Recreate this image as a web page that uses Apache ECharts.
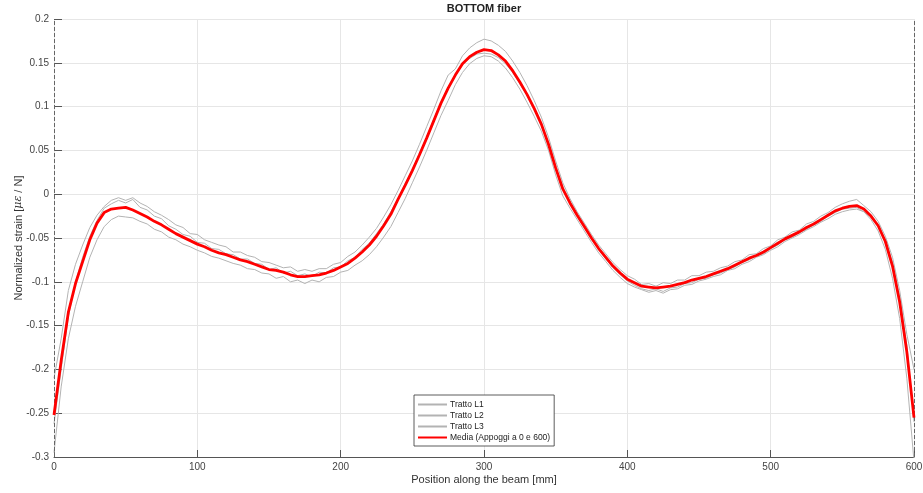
<!DOCTYPE html>
<html><head><meta charset="utf-8">
<script src="https://cdn.jsdelivr.net/npm/echarts@6/dist/echarts.min.js"></script>
<style>html,body{margin:0;padding:0;background:#fff}#c{width:923px;height:493px}</style>
</head><body><div id="c"></div>
<script>
// positions along the beam [mm], sampled every 5 mm from 0 to 600
const positions = Array.from({length: 121}, (_, i) => i * 5);

const trattoL1 = [
-0.210,-0.165,-0.110,-0.080,-0.058,-0.038,-0.024,-0.014,-0.007,-0.004,
-0.007,-0.004,-0.010,-0.014,-0.020,-0.024,-0.029,-0.035,-0.038,-0.045,
-0.046,-0.052,-0.055,-0.058,-0.060,-0.066,-0.066,-0.070,-0.072,-0.077,
-0.078,-0.081,-0.084,-0.083,-0.088,-0.086,-0.088,-0.085,-0.085,-0.080,
-0.078,-0.071,-0.066,-0.058,-0.049,-0.039,-0.026,-0.012,0.004,0.021,
0.038,0.057,0.077,0.097,0.118,0.136,0.143,0.158,0.167,0.173,
0.177,0.175,0.170,0.163,0.152,0.139,0.124,0.107,0.088,0.065,
0.038,0.013,-0.005,-0.020,-0.033,-0.046,-0.058,-0.068,-0.078,-0.086,
-0.093,-0.097,-0.103,-0.102,-0.105,-0.101,-0.102,-0.098,-0.098,-0.093,
-0.093,-0.089,-0.088,-0.084,-0.082,-0.077,-0.075,-0.069,-0.068,-0.062,
-0.059,-0.052,-0.049,-0.043,-0.041,-0.034,-0.031,-0.025,-0.021,-0.015,
-0.011,-0.008,-0.006,-0.013,-0.020,-0.031,-0.048,-0.072,-0.110,-0.160,
-0.200];

const trattoL2 = [
-0.262,-0.200,-0.140,-0.100,-0.072,-0.048,-0.030,-0.016,-0.011,-0.007,
-0.010,-0.006,-0.015,-0.018,-0.025,-0.028,-0.036,-0.040,-0.046,-0.048,
-0.055,-0.056,-0.062,-0.063,-0.068,-0.069,-0.074,-0.074,-0.079,-0.080,
-0.086,-0.084,-0.090,-0.088,-0.093,-0.091,-0.094,-0.089,-0.090,-0.084,
-0.083,-0.076,-0.072,-0.063,-0.056,-0.045,-0.034,-0.020,-0.005,0.012,
0.028,0.047,0.065,0.086,0.104,0.122,0.135,0.148,0.155,0.160,
0.161,0.160,0.156,0.149,0.139,0.126,0.113,0.097,0.079,0.057,
0.031,0.007,-0.011,-0.025,-0.038,-0.051,-0.063,-0.074,-0.084,-0.092,
-0.099,-0.104,-0.108,-0.110,-0.108,-0.111,-0.107,-0.106,-0.102,-0.101,
-0.097,-0.096,-0.092,-0.090,-0.086,-0.083,-0.078,-0.075,-0.070,-0.068,
-0.062,-0.058,-0.052,-0.049,-0.044,-0.040,-0.035,-0.031,-0.025,-0.021,
-0.017,-0.016,-0.015,-0.020,-0.029,-0.042,-0.063,-0.096,-0.142,-0.210,
-0.305];

const trattoL3 = [
-0.295,-0.220,-0.165,-0.128,-0.100,-0.072,-0.052,-0.037,-0.029,-0.025,
-0.026,-0.027,-0.031,-0.034,-0.040,-0.043,-0.049,-0.052,-0.057,-0.060,
-0.064,-0.067,-0.071,-0.073,-0.076,-0.079,-0.081,-0.085,-0.086,-0.090,
-0.091,-0.096,-0.094,-0.100,-0.098,-0.102,-0.098,-0.100,-0.095,-0.094,
-0.089,-0.087,-0.081,-0.076,-0.069,-0.060,-0.049,-0.037,-0.021,-0.005,
0.013,0.031,0.050,0.070,0.090,0.107,0.125,0.139,0.149,0.155,
0.158,0.157,0.152,0.144,0.133,0.120,0.105,0.089,0.072,0.050,
0.022,-0.002,-0.016,-0.029,-0.042,-0.055,-0.067,-0.077,-0.087,-0.095,
-0.102,-0.106,-0.109,-0.112,-0.110,-0.113,-0.109,-0.108,-0.104,-0.103,
-0.099,-0.097,-0.094,-0.092,-0.087,-0.085,-0.080,-0.077,-0.072,-0.069,
-0.064,-0.060,-0.054,-0.050,-0.046,-0.041,-0.037,-0.032,-0.028,-0.023,
-0.020,-0.018,-0.017,-0.020,-0.026,-0.036,-0.052,-0.078,-0.118,-0.172,
-0.260];

const media = [
-0.252,-0.190,-0.135,-0.102,-0.077,-0.052,-0.033,-0.021,-0.017,-0.016,
-0.015,-0.018,-0.022,-0.026,-0.031,-0.035,-0.040,-0.045,-0.049,-0.053,
-0.057,-0.060,-0.064,-0.067,-0.069,-0.072,-0.075,-0.077,-0.080,-0.083,
-0.086,-0.087,-0.089,-0.092,-0.094,-0.094,-0.093,-0.092,-0.090,-0.087,
-0.083,-0.079,-0.073,-0.066,-0.058,-0.048,-0.036,-0.023,-0.006,0.010,
0.027,0.045,0.064,0.084,0.104,0.121,0.136,0.149,0.157,0.162,
0.165,0.164,0.159,0.152,0.141,0.128,0.114,0.098,0.080,0.057,
0.030,0.006,-0.010,-0.024,-0.037,-0.050,-0.062,-0.072,-0.082,-0.090,
-0.097,-0.101,-0.105,-0.106,-0.107,-0.106,-0.105,-0.103,-0.101,-0.098,
-0.096,-0.094,-0.091,-0.088,-0.085,-0.081,-0.077,-0.073,-0.070,-0.066,
-0.061,-0.056,-0.051,-0.047,-0.043,-0.038,-0.034,-0.029,-0.024,-0.019,
-0.016,-0.014,-0.013,-0.017,-0.025,-0.036,-0.054,-0.082,-0.123,-0.180,
-0.255];

const seriesNames = ['Tratto L1', 'Tratto L2', 'Tratto L3', 'Media (Appoggi a 0 e 600)'];
const supports = [0, 600];
const xTicks = {min: 0, max: 600, interval: 100};
const yTicks = {min: -0.3, max: 0.2, interval: 0.05};

const pair = arr => positions.map((x, i) => [x, arr[i]]);
const FONT = 'Liberation Sans, Arial, sans-serif';
const gray = '#b3b3b3';

const chart = echarts.init(document.getElementById('c'), null, {renderer: 'canvas'});
const grayLine = (name, data) => ({
  name, type: 'line', data: pair(data), symbol: 'none', showSymbol: false,
  lineStyle: {color: gray, width: 1}, itemStyle: {color: gray}, z: 2, animation: false
});
chart.setOption({
  animation: false,
  title: {text: 'BOTTOM fiber', left: 484, top: 3, padding: 0, textAlign: 'center',
    textStyle: {fontFamily: FONT, fontSize: 11, fontWeight: 'bold', color: '#222'}},
  grid: {left: 54, right: 9, top: 19, bottom: 36, containLabel: false, outerBoundsMode: 'none'},
  legend: {
    left: 414, top: 395, orient: 'vertical', itemWidth: 29, itemHeight: 8, itemGap: 0,
    padding: [4, 4, 3, 3], backgroundColor: '#fff', borderColor: '#333', borderWidth: 0.8,
    itemStyle: {opacity: 0},
    textStyle: {fontFamily: FONT, fontSize: 8.5, lineHeight: 11, color: '#222', padding: [0, 0, 0, -2]},
    data: seriesNames
  },
  xAxis: {
    type: 'value', min: xTicks.min, max: xTicks.max, interval: xTicks.interval,
    name: 'Position along the beam [mm]', nameLocation: 'middle', nameGap: 17, nameMoveOverlap: false,
    nameTextStyle: {fontFamily: FONT, fontSize: 11, color: '#333'},
    axisLine: {show: true, onZero: false, lineStyle: {color: '#555', width: 1}},
    axisTick: {show: true, inside: true, length: 7, lineStyle: {color: '#555'}},
    axisLabel: {fontFamily: FONT, fontSize: 10, color: '#444', margin: 5},
    splitLine: {show: true, lineStyle: {color: '#e6e6e6', width: 1}}
  },
  yAxis: {
    type: 'value', min: yTicks.min, max: yTicks.max, interval: yTicks.interval,
    name: 'Normalized strain [{i|με} / N]', nameLocation: 'middle', nameGap: 30, nameRotate: 90,
    nameMoveOverlap: false,
    nameTextStyle: {fontFamily: FONT, fontSize: 11, color: '#333',
      rich: {i: {fontFamily: 'DejaVu Serif, serif', fontStyle: 'italic', fontSize: 11, color: '#333'}}},
    axisLine: {show: false, onZero: false},
    axisTick: {show: true, inside: true, length: 8, lineStyle: {color: '#555'}},
    axisLabel: {fontFamily: FONT, fontSize: 10, color: '#444', margin: 5,
      formatter: v => String(+v.toFixed(2))},
    splitLine: {show: true, lineStyle: {color: '#e6e6e6', width: 1}}
  },
  series: [
    Object.assign(grayLine(seriesNames[0], trattoL1), {
      markLine: {silent: true, symbol: 'none', label: {show: false}, animation: false,
        lineStyle: {color: '#666', width: 1, type: [4, 2]},
        data: supports.map(s => ({xAxis: s}))}
    }),
    grayLine(seriesNames[1], trattoL2),
    grayLine(seriesNames[2], trattoL3),
    {name: seriesNames[3], type: 'line', data: pair(media), symbol: 'none', showSymbol: false,
      lineStyle: {color: '#ff0000', width: 2.8}, itemStyle: {color: '#ff0000'}, z: 5}
  ]
});
</script></body></html>
